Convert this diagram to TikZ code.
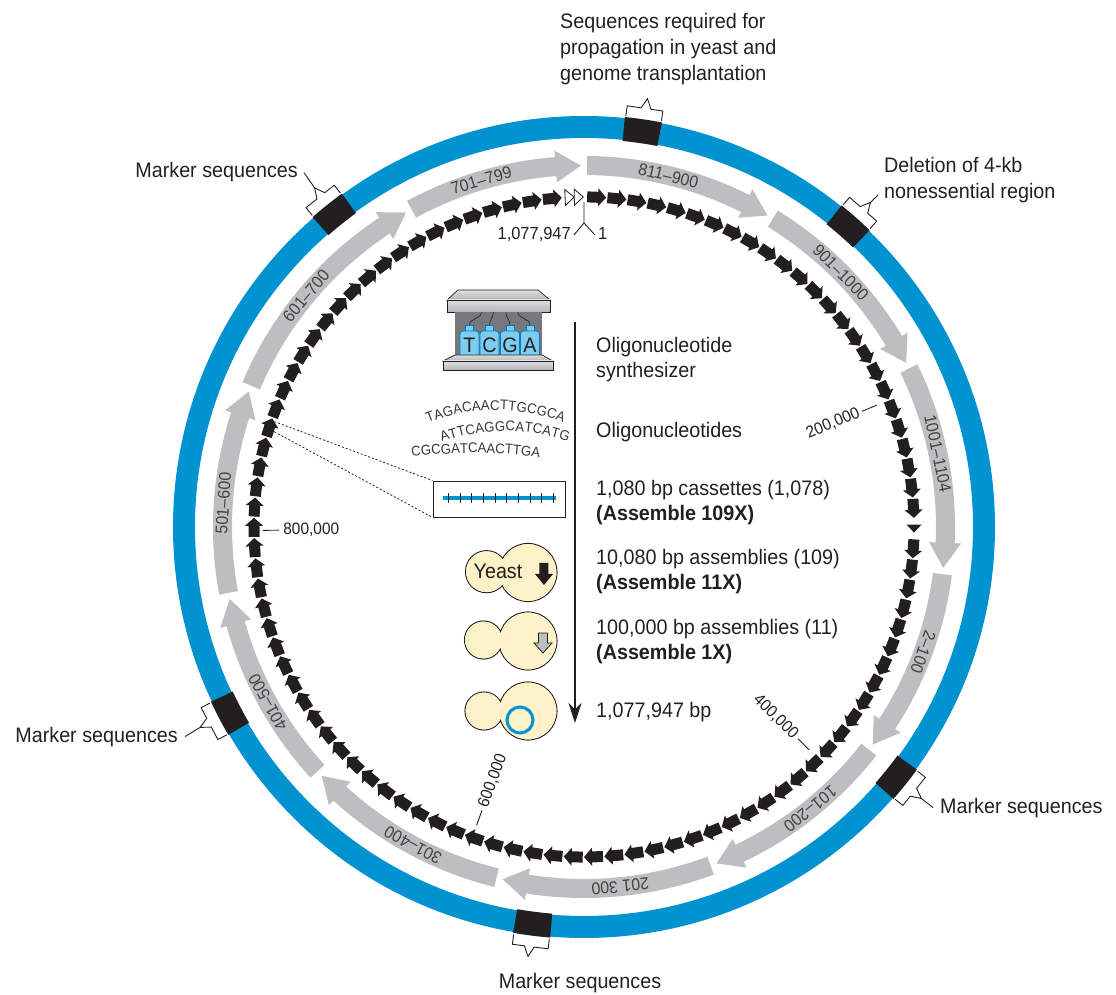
\documentclass[tikz,border=0pt]{standalone}
\usepackage{fontspec}
\setmainfont{Liberation Sans}[FakeStretch=0.94]
\usetikzlibrary{arrows.meta, positioning, calc, decorations.text}

\definecolor{ringblue}{RGB}{0,147,208}
\definecolor{seggrey}{RGB}{188,190,192}
\definecolor{ink}{RGB}{35,31,32}
\definecolor{yeastfill}{RGB}{253,241,200}
\definecolor{bottle}{RGB}{125,205,242}
\definecolor{bottleline}{RGB}{0,125,195}
\definecolor{steel}{RGB}{118,120,122}
\definecolor{lightsteel}{RGB}{222,223,224}

\newcommand{\seqfont}{\fontsize{14}{14}\selectfont}

\begin{document}
\begin{tikzpicture}[x=1pt, y=1pt,
  lbl/.style={font=\fontsize{21}{26}\selectfont, text=ink, inner sep=0pt},
  boldlbl/.style={lbl, font=\fontsize{21}{26}\selectfont\bfseries},
  seglbl/.style={font=\fontsize{17}{17}\selectfont, text=ink!85, inner sep=0pt},
  poslbl/.style={font=\fontsize{16.5}{16.5}\selectfont, text=ink, inner sep=0pt},
  thinline/.style={draw=ink, line width=0.9pt},
  bracket/.style={draw=ink, line width=0.9pt, line join=miter},
  bottlebox/.style={fill=bottle, draw=bottleline, line width=0.8pt},
  panel/.style={top color=lightsteel, bottom color=steel!55, draw=ink, line width=0.7pt},
  oligo/.style={decorate, decoration={text along path, text align=fit to path, text color=ink!90}}
]
\useasboundingbox (-584,-468) rectangle (532,527);

%% GENOME RING
\draw[ringblue, line width=22pt] (0,0) circle[radius=400];

%% MARKER BLOCKS + BRACKETS
\foreach \a/\n in {81.7/top, 128.6/ul, 48.7/del, 207.7/ll, 321.3/lr, 262.7/bot}{
  \begin{scope}[rotate=\a-90]
    \fill[ink] (87.4:388) arc[start angle=87.4, end angle=92.6, radius=388]
      -- (92.6:412) arc[start angle=92.6, end angle=87.4, radius=412] -- cycle;
    \draw[bracket] (-18,413) -- (-18,423) -- (-4,423) -- (1,433) -- (6,423) -- (18,423) -- (18,413);
    \coordinate (tip-\n) at (1,433);
  \end{scope}
}

\node[lbl, align=left, anchor=north west] (propag) at (-24,514)
  {Sequences required for\\propagation in yeast and\\genome transplantation};
\node[lbl, align=left, anchor=north west] (deletion) at (300,370)
  {Deletion of 4-kb\\nonessential region};
\node[lbl, anchor=base east] (mk-ul) at (-286,349) {Marker sequences};
\node[lbl, anchor=base east] (mk-ll) at (-406,-215) {Marker sequences};
\node[lbl, anchor=base west] (mk-lr) at (356,-286) {Marker sequences};
\node[lbl, anchor=base] (mk-bot) at (-4,-461) {Marker sequences};
\draw[thinline] (tip-ul) -- ([xshift=6pt]mk-ul.east);
\draw[thinline] (tip-del) -- ($(deletion.south west)+(-6,8)$);
\draw[thinline] (tip-ll) -- ([xshift=7pt]mk-ll.east);
\draw[thinline] (tip-lr) -- ([xshift=-7pt]mk-lr.west);

%% 100-KB SEGMENTS (clockwise)
\foreach \s/\e/\t/\n in {89.5/59.5/811--900/811, 58.5/27/901--1000/901,
    26/-6.5/1001--1104/1001, -7.5/-37/2--100/2, -38/-68.5/101--200/101,
    -69.5/-103/{201 300}/201, -104/-136.5/301--400/301, -137.5/-168.5/401--500/401,
    -169.5/-202/501--600/501, -203/-240.5/601--700/601, -241.5/-269.5/701--799/701}{
  \pgfmathsetmacro{\b}{\e+4}
  \pgfmathsetmacro{\m}{(\s+\b)/2}
  \fill[seggrey] (\s:352) arc[start angle=\s, end angle=\b, radius=352]
    -- (\b:345.5) -- (\e:361.5) -- (\b:377.5) -- (\b:371)
    arc[start angle=\b, end angle=\s, radius=371] -- cycle;
  \node[seglbl, rotate=\m-90] (band\n) at (\m:361.5) {\t};
}

%% 1,080-BP CASSETTES
\foreach \k in {0,...,100}{
  \pgfmathsetmacro{\a}{87.8-3.523*\k}
  \ifnum\k=25
    \fill[ink, rotate=\a-90] (-4,322.5) -- (4,330) -- (-4,337.5) -- cycle;
  \else
    \fill[ink, rotate=\a-90] (-9.5,324.5) -- (1.5,324.5) -- (1.5,321) -- (9.5,330) -- (1.5,339) -- (1.5,335.5) -- (-9.5,335.5) -- cycle;
  \fi
}
\foreach \a in {92.5,90.9}
  \draw[ink, fill=white, line width=0.8pt, rotate=\a-90] (-4.5,322) -- (4.5,330) -- (-4.5,338) -- cycle;

%% ORIGIN
\draw[thinline] (0,325) -- (0,304) -- (-10,292);
\draw[thinline] (0,304) -- (11,292);
\node[poslbl, font=\fontsize{17.5}{17.5}\selectfont, anchor=base east] (endpos) at (-13,287) {1,077,947};
\node[poslbl, font=\fontsize{17.5}{17.5}\selectfont, anchor=base west] (startpos) at (14,287) {1};

%% POSITIONS
\draw[thinline] (22.6:301) -- (22.6:317);
\node[poslbl, anchor=east, rotate=22.6] (p200) at (22.6:298) {200,000};
\draw[thinline] (-44.7:301) -- (-44.7:317);
\node[poslbl, anchor=east, rotate=-44.7] (p400) at (-44.7:298) {400,000};
\draw[thinline] (250.2:301) -- (250.2:317);
\node[poslbl, anchor=west, rotate=70.2] (p600) at (250.2:298) {600,000};
\draw[thinline] (180.6:305) -- (180.6:321);
\node[poslbl, anchor=west, rotate=0.6] (p800) at (180.6:301) {800,000};

%% SYNTHESIZER
\shadedraw[panel] (-126,237) -- (-46,237) -- (-34,227) -- (-137,227) -- cycle;
\shadedraw[panel] (-137,227) rectangle (-34,215);
\fill[steel] (-129,215) rectangle (-42,172);
\foreach \bx/\l in {-114.5/T, -94.5/C, -74/G, -54/A}{
  \draw[ink, line width=0.6pt] (\bx,202) to[out=90, in=-90] ({0.6*\bx-33.8},215);
  \draw[bottlebox] (\bx-4,194) rectangle (\bx+4,202);
  \draw[bottlebox, rounded corners=3pt] (\bx-9.5,169) rectangle (\bx+9.5,196);
  \node[font=\fontsize{21}{21}\selectfont, text=ink, inner sep=0pt] (vial\l) at (\bx,182) {\l};
}
\shadedraw[panel] (-129,172) -- (-42,172) -- (-31,166) -- (-141,166) -- cycle;
\shadedraw[panel] (-141,166) rectangle (-31,157);

%% OLIGOS + CASSETTE
\path[oligo, decoration={text={|\seqfont|TAGACAACTTGCGCA}}]
  (-156,104) arc[start angle=111.8, end angle=68.2, radius=182];
\path[oligo, decoration={text={|\seqfont|ATTCAGGCATCATG}}]
  (-142,85) arc[start angle=109.8, end angle=70.2, radius=186];
\path[oligo, decoration={text={|\seqfont|CGCGATCAACTTGA}}]
  (-172,70) arc[start angle=97.3, end angle=82.7, radius=498];

\node[draw=ink, line width=0.9pt, fill=white, minimum width=132pt, minimum height=36pt,
  inner sep=0pt] (cassette) at (-85,28) {};
\draw[ringblue, line width=4pt] (-141,29) -- (-28,29);
\foreach \i in {0,...,9}
  \draw[ink, line width=0.8pt] ({-135.7+11.67*\i},24) -- ++(0,10);
\coordinate (seqA) at (161.2:327);
\coordinate (seqB) at (162.9:324);
\draw[ink, line width=0.8pt, dash pattern=on 2pt off 2pt] (seqA) -- (cassette.north west);
\draw[ink, line width=0.8pt, dash pattern=on 2pt off 2pt] (seqB) -- (cassette.south west);

%% YEAST
\foreach \sx/\sy/\sr/\by in {-97.5/-44.7/21/-45.5, -100.5/-113/19/-114, -100/-184/19/-184}{
  \pgfmathsetmacro{\ir}{\sr-0.55}
  \draw[ink, line width=1.1pt] (\sx,\sy) circle[radius=\sr] (-56,\by) circle[radius=29];
  \fill[yeastfill] (\sx,\sy) circle[radius=\ir] (-56,\by) circle[radius=28.45];
}
\node[lbl] (yeastlbl) at (-86,-44.5) {Yeast};
\fill[ink] (-44.5,-36) -- (-35.5,-36) -- (-35.5,-47) -- (-31,-47) -- (-40,-58) -- (-49,-47) -- (-44.5,-47) -- cycle;
\draw[ink, fill=seggrey, line width=0.8pt] (-45.5,-106) -- (-36.5,-106) -- (-36.5,-116) -- (-32,-116)
  -- (-41,-126) -- (-50,-116) -- (-45.5,-116) -- cycle;
\draw[ringblue, line width=3pt] (-64,-193) circle[radius=13];

%% WORKFLOW
\coordinate (flowtop) at (-9,205);
\coordinate (flowend) at (-9,-196);
\draw[ink, line width=2pt, -{Stealth[length=20pt, width=13pt]}] (flowtop) -- (flowend);

\node[lbl, anchor=base west] (synthA) at (12,174) {Oligonucleotide};
\node[lbl, anchor=base west] (synthB) at (12,149) {synthesizer};
\node[lbl, anchor=base west] (oligos) at (12,89) {Oligonucleotides};
\node[lbl, anchor=base west] (cass) at (12,31) {1,080 bp cassettes (1,078)};
\node[boldlbl, anchor=base west] (cassB) at (12,6) {(Assemble 109X)};
\node[lbl, anchor=base west] (asm10) at (12,-38) {10,080 bp assemblies (109)};
\node[boldlbl, anchor=base west] (asm10B) at (12,-63) {(Assemble 11X)};
\node[lbl, anchor=base west] (asm100) at (12,-108) {100,000 bp assemblies (11)};
\node[boldlbl, anchor=base west] (asm100B) at (12,-133) {(Assemble 1X)};
\node[lbl, anchor=base west] (genome) at (12,-191) {1,077,947 bp};
\end{tikzpicture}
\end{document}
